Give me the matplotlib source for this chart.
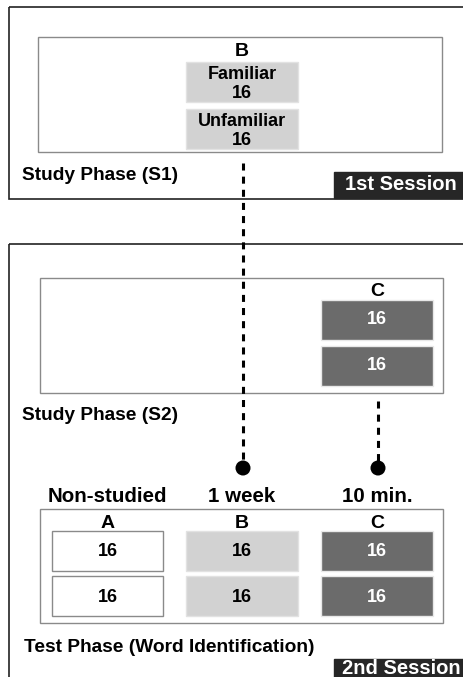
import matplotlib
matplotlib.use("Agg")
import matplotlib.pyplot as plt
from matplotlib.patches import Rectangle, Circle

plt.rcParams["font.family"] = ["Liberation Sans", "DejaVu Sans"]

# design content
study1_labels = ["Familiar\n16", "Unfamiliar\n16"]
study2_counts = [16, 16]
test_groups = ["A", "B", "C"]
test_delays = ["Non-studied", "1 week", "10 min."]
test_counts = [[16, 16], [16, 16], [16, 16]]
phase_titles = ["Study Phase (S1)", "Study Phase (S2)", "Test Phase (Word Identification)"]
session_titles = ["1st Session", "2nd Session"]

LIGHT = "#d2d2d2"
DARK = "#6b6b6b"
EDGE = "#8a8a8a"

W, H = 464, 677
fig = plt.figure(figsize=(W / 100, H / 100), dpi=100)
ax = fig.add_axes([0, 0, 1, 1])
ax.set_xlim(0, W)
ax.set_ylim(H, 0)
ax.axis("off")


def box(x0, y0, x1, y1, fc="none", ec=EDGE, lw=1.0, z=2):
    ax.add_patch(Rectangle((x0, y0), x1 - x0, y1 - y0, facecolor=fc, edgecolor=ec, linewidth=lw, zorder=z))


def label(x, y, s, size=13, color="black", ha="center"):
    ax.text(x, y, s, ha=ha, va="center", fontsize=size, fontweight="bold", color=color, zorder=5,
            linespacing=1.2)


col_x = [(52, 163), (186, 298), (321, 433)]
col_c = [(a + b) / 2 for a, b in col_x]

# session 1
box(9, 7, W + 5, 199, ec="#222222", lw=1.2, z=1)
box(38, 37, 442, 152, fc="white", ec=EDGE)
label(col_c[1], 52, "B", size=14)
for i, s in enumerate(study1_labels):
    y0 = 62 + i * 47
    box(col_x[1][0], y0, col_x[1][1], y0 + 40, fc=LIGHT, ec="#e2e2e2", z=3)
    label(col_c[1], y0 + 22, s)
label(22, 175, phase_titles[0], size=13.8, ha="left")
box(334, 172, W + 2, 198, fc="#262626", ec="#262626", z=3)
label(401, 185, session_titles[0], size=14.5, color="white")

# session 2
box(9, 244, W + 5, H + 5, ec="#222222", lw=1.2, z=1)
box(40, 278, 443, 393, fc="white", ec=EDGE)
label(col_c[2], 292, "C", size=14)
for i, n in enumerate(study2_counts):
    y0 = 300 + i * 46
    box(col_x[2][0], y0, col_x[2][1], y0 + 40, fc=DARK, ec="#e8e8e8", z=3)
    label(col_c[2], y0 + 20, str(n), color="white")
label(22, 415, phase_titles[1], size=13.8, ha="left")

# dashed connectors and dots
dash = (0, (2.3, 2.0))
ax.plot([243, 243], [163, 462], color="black", lw=2.2, ls=dash, solid_capstyle="butt", zorder=4)
ax.plot([378, 378], [401, 462], color="black", lw=2.2, ls=dash, solid_capstyle="butt", zorder=4)
for xc in (243, 378):
    ax.add_patch(Circle((xc, 468), 7.5, facecolor="black", edgecolor="none", zorder=5))

# test phase
for c, d in zip(col_c, test_delays):
    label(c, 496, d, size=14.8)
box(40, 509, 443, 623, fc="white", ec=EDGE)
fills = ["white", LIGHT, DARK]
edges = [EDGE, "#e2e2e2", "#e8e8e8"]
txt = ["black", "black", "white"]
for j, g in enumerate(test_groups):
    label(col_c[j], 523, g, size=14)
    for i, n in enumerate(test_counts[j]):
        y0 = 531 + i * 45
        box(col_x[j][0], y0, col_x[j][1], y0 + 40, fc=fills[j], ec=edges[j], z=3)
        label(col_c[j], y0 + 21, str(n), color=txt[j])
label(24, 648, phase_titles[2], size=13.8, ha="left")
box(334, 659, W + 2, H + 2, fc="#262626", ec="#262626", z=3)
label(401, 669, session_titles[1], size=14.5, color="white")

fig.savefig("out.png", dpi=100)
